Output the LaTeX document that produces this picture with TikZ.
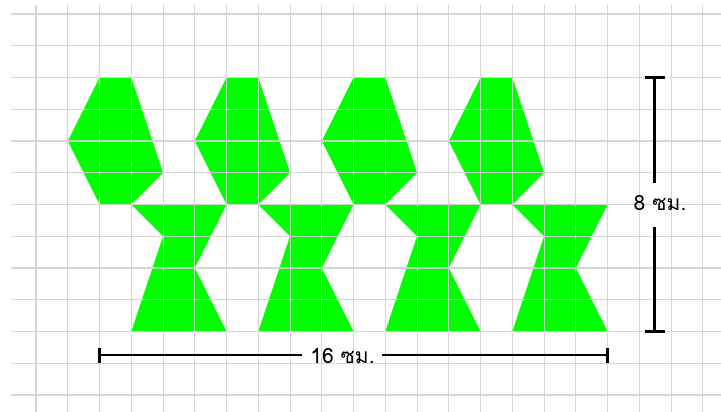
\documentclass[tikz,border=0pt]{standalone}
\usepackage{fontspec}
\newfontfamily\thaifont[Script=Thai]{Loma}
\definecolor{shapegreen}{RGB}{0,255,0}
\definecolor{gridgray}{RGB}{210,210,210}
\tikzset{
  gridline/.style={draw=gridgray, line width=1.1pt, opacity=0.9},
  greenpiece/.style={fill=shapegreen},
  dimline/.style={draw=black, line width=2.2pt},
  dimlabel/.style={font=\thaifont\fontsize{21}{25}\selectfont, inner sep=0pt}
}
\begin{document}
\begin{tikzpicture}[x=31.75pt,y=-31.75pt]
\useasboundingbox (-0.1354,-0.441) rectangle (22.573,12.535);
% green pieces
\foreach \k in {0,4,8,12} {
  \fill[greenpiece] (3+\k,2) -- (4+\k,2) -- (5+\k,5) -- (4+\k,6) -- (3+\k,6) -- (2+\k,4) -- cycle;
  \fill[greenpiece] (4+\k,6) -- (7+\k,6) -- (6+\k,8) -- (7+\k,10) -- (4+\k,10) -- (5+\k,7) -- cycle;
}
% grid
\foreach \r in {0,...,12} \draw[gridline] (0.211,\r) -- (22.573,\r);
\foreach \c in {1,...,22} \draw[gridline] (\c,-0.283) -- (\c,12.535);
% horizontal dimension
\coordinate (hL) at (3,10.75);
\coordinate (hR) at (19,10.75);
\node[dimlabel] (hT) at (10.652,10.78) {16 ซม.};
\coordinate (hA) at (9.376,10.75);
\coordinate (hB) at (11.896,10.75);
\draw[dimline] (hL) -- (hA);
\draw[dimline] (hB) -- (hR);
\draw[dimline] ([yshift=7.5pt]hL) -- ([yshift=-7.5pt]hL);
\draw[dimline] ([yshift=7.5pt]hR) -- ([yshift=-7.5pt]hR);
% vertical dimension
\coordinate (vT) at (20.48,2);
\coordinate (vBot) at (20.48,10);
\coordinate (vA) at (20.48,5.323);
\coordinate (vB) at (20.48,6.709);
\node[dimlabel] (vTxt) at (20.652,5.95) {8 ซม.};
\draw[dimline] (vT) -- (vA);
\draw[dimline] (vB) -- (vBot);
\draw[dimline] ([xshift=-10pt]vT) -- ([xshift=10pt]vT);
\draw[dimline] ([xshift=-10pt]vBot) -- ([xshift=10pt]vBot);
\end{tikzpicture}
\end{document}
